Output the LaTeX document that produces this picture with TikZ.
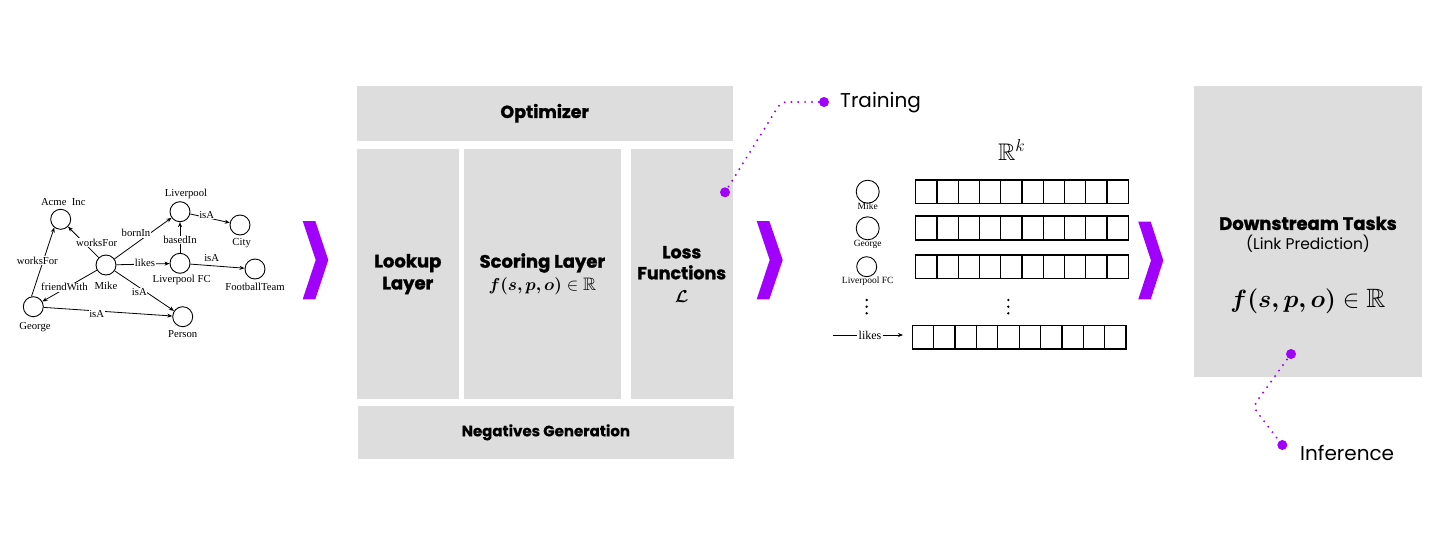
\documentclass[tikz,border=0pt]{standalone}
\usepackage{amsmath,amssymb,bm}
\usepackage{fontspec}
\setmainfont{Poppins}
\newfontfamily\heavy{Poppins}[BoldFeatures={FakeBold=1.3}]
\newfontfamily\semiheavy{Poppins}[BoldFeatures={FakeBold=0.6}]
\newfontfamily\serif{Liberation Serif}
\usetikzlibrary{arrows.meta}
\definecolor{boxgray}{HTML}{DDDDDD}
\definecolor{acc}{HTML}{A100FF}
\tikzset{
  box/.style={fill=boxgray, draw=none, inner sep=0pt, align=center, font=\heavy\bfseries\fontsize{18}{22}\selectfont},
  gc/.style={circle, draw, line width=0.9pt, minimum size=20pt, inner sep=0pt},
  ec/.style={circle, draw, line width=0.9pt, inner sep=0pt},
  gl/.style={font=\serif\fontsize{10.7}{10.7}\selectfont, inner sep=0.5pt},
  el/.style={font=\serif\fontsize{10.7}{10.7}\selectfont, inner sep=0.6pt, fill=white},
  sl/.style={font=\serif\fontsize{9.5}{9.5}\selectfont, inner sep=0pt},
  garr/.style={line width=0.8pt, -{Stealth[length=5pt,width=4pt]}},
  cell/.style={line width=1.2pt},
  chev/.style={fill=acc, draw=none},
  dotline/.style={acc, line width=2.2pt, dash pattern=on 0pt off 6.8pt, line cap=round, rounded corners=6pt},
  pdot/.style={circle, fill=acc, minimum size=10pt, inner sep=0pt},
  captxt/.style={font=\fontsize{20}{20}\selectfont, anchor=west, inner sep=0pt}
}
\begin{document}
\begin{tikzpicture}[x=1pt,y=-1pt]
\useasboundingbox[fill=white] (0,0) rectangle (1435,541);

% ---------- knowledge graph ----------
\node[gc] (acme) at (60.7,219.3) {};
\node[gc] (lpool) at (180,211.7) {};
\node[gc] (city) at (240,225) {};
\node[gc] (mike) at (106,265) {};
\node[gc] (lfc) at (180,263.3) {};
\node[gc] (team) at (255,269) {};
\node[gc] (george) at (33.3,306.7) {};
\node[gc] (person) at (182.7,316.7) {};

\node[gl] (tacme) at (63.3,201.7) {Acme\ \ Inc};
\node[gl] (tlpool) at (186,194) {Liverpool};
\node[gl] (tcity) at (241.7,243.3) {City};
\node[gl] (tmike) at (106,285.7) {Mike};
\node[gl] (tlfc) at (181.7,280) {Liverpool FC};
\node[gl] (tteam) at (255,286.7) {FootballTeam};
\node[gl] (tgeorge) at (35,326.7) {George};
\node[gl] (tperson) at (182.7,334) {Person};

\draw[garr] (mike) -- (acme);
\draw[garr] (mike) -- (lpool);
\draw[garr] (lpool) -- (city);
\draw[garr] (lfc) -- (lpool);
\draw[garr] (mike) -- (lfc);
\draw[garr] (lfc) -- (team);
\draw[garr] (mike) -- (george);
\draw[garr] (mike) -- (person);
\draw[garr] (george.100) -- (acme.232);
\draw[garr] (george) -- (person);

\node[el] (e1) at (96.7,242.7) {worksFor};
\node[el] (e2) at (136,233.3) {bornIn};
\node[el] (e3) at (206.7,215) {isA};
\node[el] (e4) at (180,240) {basedIn};
\node[el] (e5) at (145,263.3) {likes};
\node[gl] (e6) at (211.7,258.3) {isA};
\node[el] (e7) at (64.5,287.3) {friendWith};
\node[el] (e8) at (139.3,291.7) {isA};
\node[el] (e9) at (37.3,260.7) {worksFor};
\node[el] (e10) at (96.7,314) {isA};

% ---------- chevrons ----------
\fill[chev] (302.7,221) -- (315.3,221) -- (328.3,260) -- (315.3,299.3) -- (302.7,299.3) -- (315.7,260) -- cycle;
\fill[chev] (756.7,221) -- (769.3,221) -- (782.7,260) -- (769.3,299.3) -- (756.7,299.3) -- (769.7,260) -- cycle;
\fill[chev] (1138.3,221.7) -- (1150.7,221.7) -- (1163.3,260.5) -- (1150.7,299.3) -- (1138.3,299.3) -- (1151,260.5) -- cycle;

% ---------- model boxes ----------
\node[box, minimum width=376pt, minimum height=54.7pt, font=\heavy\bfseries\fontsize{17.5}{17.5}\selectfont] (opt) at (544.7,113.3) {Optimizer};
\node[box, minimum width=101.7pt, minimum height=250.3pt] (lookup) at (407.85,274.15) {Lookup\\Layer};
\node[box, minimum width=156.7pt, minimum height=250.3pt] (score) at (542.35,274.15) {Scoring Layer\\[1pt]{\fontsize{18}{18}\selectfont$\bm{f(s,p,o)}\in\mathbb{R}$}};
\node[box, minimum width=102pt, minimum height=250.3pt, font=\heavy\bfseries\fontsize{17.5}{21}\selectfont] (loss) at (681.7,274.15) {Loss\\Functions\\[2pt]$\bm{\mathcal{L}}$};
\node[box, minimum width=375.7pt, minimum height=52.7pt, font=\semiheavy\bfseries\fontsize{15}{15}\selectfont] (neg) at (545.85,432.35) {Negatives Generation};

% ---------- training callout ----------
\node[pdot] (tdot1) at (725,192.3) {};
\node[pdot] (tdot2) at (824,102) {};
\coordinate (tbend) at (781,102);
\draw[dotline] (tdot1.center) -- (tbend) -- (tdot2.center);
\node[captxt] (train) at (840,103) {Training};

% ---------- embeddings ----------
\node (rk) at (1011.7,150) {\fontsize{24}{24}\selectfont$\mathbb{R}^k$};
\node[ec, minimum size=23pt] (c1) at (867.7,191.7) {};
\node[ec, minimum size=23pt] (c2) at (867.7,228.3) {};
\node[ec, minimum size=20pt] (c3) at (866.7,266.7) {};
\node[sl] (l1) at (867.7,206) {Mike};
\node[sl] (l2) at (867.7,244) {George};
\node[sl] (l3) at (867.7,281.7) {Liverpool FC};
\foreach \y/\h in {180/203.3, 216/240, 255/278.3}{
  \draw[cell] (915.7,\y) rectangle (1128.3,\h);
  \foreach \i in {1,...,9}{
    \draw[cell] ({915.7+\i*21.26},\y-1) -- ({915.7+\i*21.26},\h+1);
  }
}
\draw[cell] (912.3,325.7) rectangle (1126,349);
\foreach \i in {1,...,9}{
  \draw[cell] ({912.3+\i*21.37},324.7) -- ({912.3+\i*21.37},350);
}
\foreach \x in {866.7,1008.3}{
  \foreach \y in {300,306.7,313.3}{
    \fill (\x,\y) circle (1.3pt);
  }
}
\coordinate (lk0) at (832.7,335);
\coordinate (lk1) at (903,335);
\node[font=\serif\fontsize{12}{12}\selectfont, inner sep=1pt] (likes) at (870,335) {likes};
\draw[line width=0.9pt] (lk0) -- (likes.west);
\draw[line width=0.9pt, -{Stealth[length=5pt,width=4pt]}] (likes.east) -- (lk1);

% ---------- downstream ----------
\node[fill=boxgray, minimum width=228pt, minimum height=290.7pt, inner sep=0pt] (down) at (1308,231.35) {};
\node[font=\heavy\bfseries\fontsize{18}{18}\selectfont] (dt) at (1308,223.3) {Downstream Tasks};
\node[font=\fontsize{15.5}{15.5}\selectfont] (lp) at (1308,244) {(Link Prediction)};
\node[font=\fontsize{26.5}{26.5}\selectfont] (df) at (1308,301) {$\bm{f(s,p,o)}\in\mathbb{R}$};

\node[pdot] (idot1) at (1291,354) {};
\node[pdot] (idot2) at (1282.3,445) {};
\coordinate (ibend) at (1253,406.7);
\draw[dotline] (idot1.center) -- (ibend) -- (idot2.center);
\node[captxt] (inf) at (1300,453) {Inference};
\end{tikzpicture}
\end{document}
